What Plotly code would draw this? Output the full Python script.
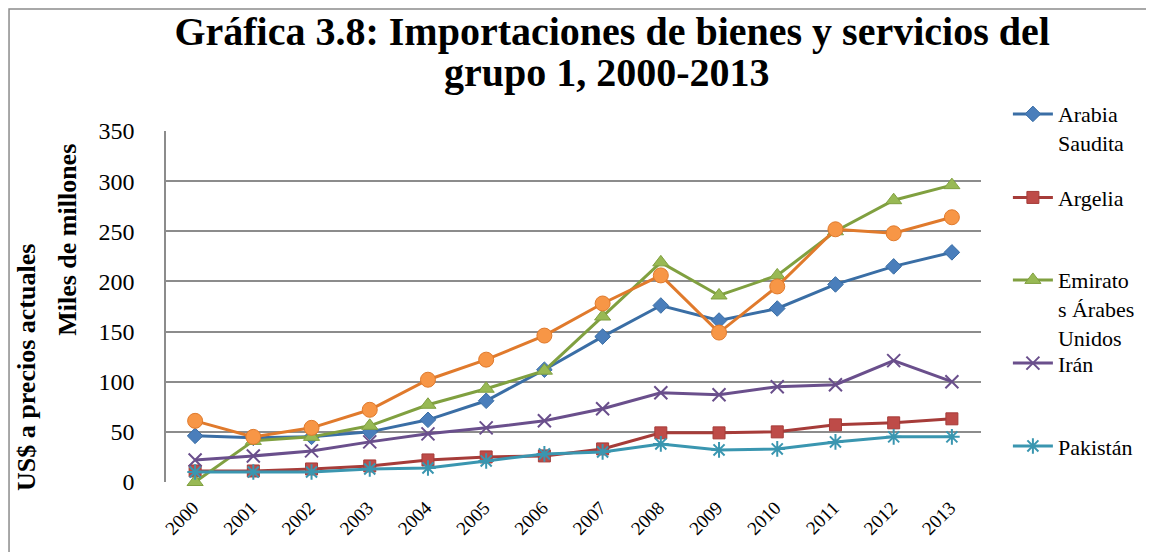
import plotly.graph_objects as go

years = [str(y) for y in range(2000, 2014)]

arabia_saudita = [46, 44, 45, 50, 62, 81, 112, 145, 176, 161, 173, 197, 215, 229]
argelia = [11, 11, 13, 16, 22, 25, 26, 33, 49, 49, 50, 57, 59, 63]
emiratos = [0, 41, 45, 56, 77, 93, 111, 165, 219, 186, 206, 250, 281, 296]
iran = [22, 26, 31, 40, 48, 54, 61, 73, 89, 87, 95, 97, 121, 100]
pakistan = [10, 10, 10, 13, 14, 21, 28, 30, 38, 32, 33, 40, 45, 45]
turquia = [61, 45, 54, 72, 102, 122, 146, 178, 206, 149, 195, 252, 248, 264]

SERIF = "Liberation Serif"

# name, values, fill, line colour, symbol, size, legend id, legend top (paper y)
series = [
    ("Arabia<br>Saudita", arabia_saudita, "#4a7ebb", "#3a6ea5", "diamond", 12, "legend", 1.108),
    ("Argelia", argelia, "#be4b48", "#a63c39", "square", 12, "legend2", 0.87),
    ("Emirato<br>s Árabes<br>Unidos", emiratos, "#98b954", "#80a040", "triangle-up", 14, "legend3", 0.635),
    ("Irán", iran, "#7d60a0", "#6a4f8c", "x-thin-open", 13, "legend4", 0.398),
    ("Pakistán", pakistan, "#46aac5", "#3a96b0", "asterisk-open", 13, "legend5", 0.162),
    ("Turquía", turquia, "#f79646", "#e07a2c", "circle", 15, None, None),
]

fig = go.Figure()
legends = {}
for name, vals, fill, line, symbol, size, leg, top in series:
    open_sym = symbol.endswith("open")
    fig.add_trace(go.Scatter(
        x=years, y=vals, name=name, mode="lines+markers",
        line=dict(color=line, width=3),
        marker=dict(symbol=symbol, size=size, color=line if open_sym else fill,
                    line=dict(color=line, width=2 if open_sym else 1)),
        showlegend=leg is not None, legend=leg or "legend", cliponaxis=False,
    ))
    if leg:
        legends[leg] = dict(x=1.033, y=top, xanchor="left", yanchor="top",
                            font=dict(size=22, family=SERIF), valign="top",
                            bgcolor="rgba(0,0,0,0)", itemwidth=40)

fig.update_layout(
    width=1154, height=552,
    margin=dict(l=158, r=181, t=123, b=78),
    paper_bgcolor="white", plot_bgcolor="white",
    font=dict(family=SERIF, color="black"),
    title=dict(text="<b>Gráfica 3.8: Importaciones de bienes y servicios del</b>",
               x=0.5235, xanchor="center", xref="container",
               y=0.958, yanchor="middle", yref="container",
               font=dict(size=40, family=SERIF)),
    xaxis=dict(type="category", range=[-0.5, 13.5], tickangle=-45,
               tickfont=dict(size=19), showgrid=False, showline=False, ticks="",
               ticklabelstandoff=10, ticklabelshift=-2),
    yaxis=dict(range=[0, 350], dtick=50, tickfont=dict(size=24),
               showgrid=True, gridcolor="#8c8c8c", gridwidth=1.5,
               showline=True, linecolor="#8c8c8c", linewidth=1.5,
               zeroline=False, ticks="", ticklabelstandoff=25),
    shapes=[dict(type="rect", xref="paper", yref="paper",
                 x0=-0.1926, x1=1.2184, y0=-0.2137, y1=1.3476,
                 line=dict(color="#8c8c8c", width=1.5))],
    annotations=[
        dict(text="<b>grupo 1, 2000-2013</b>", xref="paper", yref="paper",
             x=(599 - 158) / 815, y=(474 - 64) / 351, xanchor="center", yanchor="middle",
             showarrow=False, font=dict(size=40, family=SERIF)),
        dict(text="<b>US$ a precios actuales</b>", textangle=-90, xref="paper", yref="paper",
             x=(19 - 158) / 815, y=0.325, xanchor="center", yanchor="middle",
             showarrow=False, font=dict(size=26, family=SERIF)),
        dict(text="<b>Miles de millones</b>", textangle=-90, xref="paper", yref="paper",
             x=(60 - 158) / 815, y=0.69, xanchor="center", yanchor="middle",
             showarrow=False, font=dict(size=26, family=SERIF)),
    ],
    **legends,
)

fig.write_html("out.html")
